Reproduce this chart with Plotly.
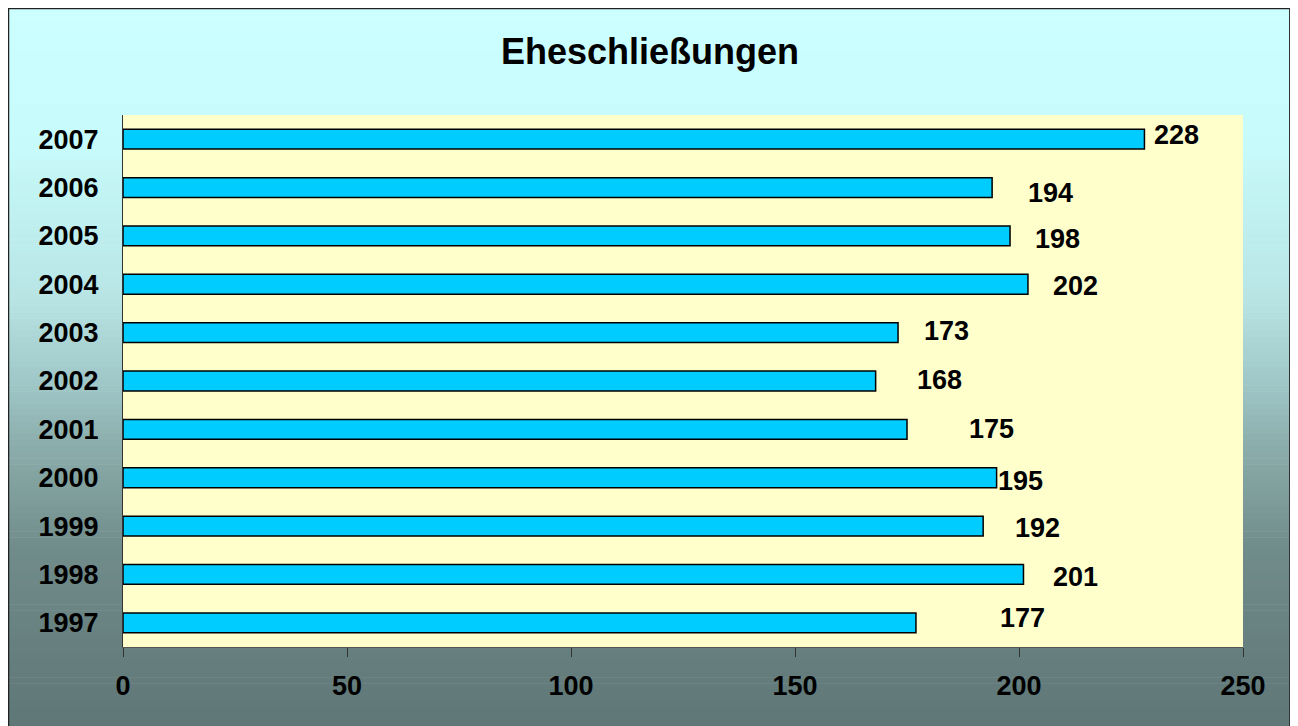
import plotly.graph_objects as go

years = ["1997", "1998", "1999", "2000", "2001", "2002", "2003", "2004", "2005", "2006", "2007"]
values = [177, 201, 192, 195, 175, 168, 173, 202, 198, 194, 228]
x_ticks = [0, 50, 100, 150, 200, 250]
title_text = "Eheschließungen"

# label offsets (px) relative to bar end, as placed in the original
label_dx = [107, 52, 54, 24, 84, 64, 48, 48, 47, 58, 32]
label_dy = [-5, 3, 2, 3, 0, -1, -2, 2, 3, 5, -4]

W, H = 1284, 730
ML, MR, MT, MB = 115, 49, 107, 91
pw, ph = W - ML - MR, H - MT - MB


def px(x):
    return (x - ML) / pw


def py(y):
    return (H - MB - y) / ph


FONT = "Arial, Liberation Sans, sans-serif"

fig = go.Figure()
fig.add_trace(go.Bar(
    x=values, y=years, orientation="h",
    marker=dict(color="#00CCFF", line=dict(color="#000000", width=1.5)),
    width=0.41, hoverinfo="x+y",
))

shapes = []
# gradient background
stops = [(0, (204, 255, 255)), (142, (199, 250, 250)), (292, (184, 228, 228)),
         (372, (160, 200, 200)), (442, (138, 172, 170)), (542, (112, 140, 138)),
         (730, (94, 117, 117))]


def col(y):
    for (y0, c0), (y1, c1) in zip(stops[:-1], stops[1:]):
        if y0 <= y <= y1:
            t = (y - y0) / (y1 - y0)
            return "rgb(%d,%d,%d)" % tuple(round(a + (b - a) * t) for a, b in zip(c0, c1))
    return "rgb(%d,%d,%d)" % stops[-1][1]


N = 120
for i in range(N):
    y0 = H * i / N
    y1 = H * (i + 1) / N + 0.6
    shapes.append(dict(type="rect", xref="paper", yref="paper", layer="below",
                       x0=px(0), x1=px(W), y0=py(y1), y1=py(y0),
                       fillcolor=col((y0 + y1) / 2), line=dict(width=0)))
# plot area
shapes.append(dict(type="rect", xref="paper", yref="paper", layer="below",
                   x0=0, x1=1, y0=0, y1=1, fillcolor="#FFFFCC", line=dict(width=0)))
# frame
shapes.append(dict(type="line", xref="paper", yref="paper", x0=px(0), x1=px(W), y0=py(0.5), y1=py(0.5),
                   line=dict(color="#222222", width=1.5)))
shapes.append(dict(type="line", xref="paper", yref="paper", x0=px(0.5), x1=px(0.5), y0=py(0), y1=py(H),
                   line=dict(color="#222222", width=1.5)))
shapes.append(dict(type="line", xref="paper", yref="paper", x0=px(W - 1.5), x1=px(W - 1.5), y0=py(0), y1=py(H),
                   line=dict(color="#333333", width=3)))

annotations = []
for i, (v, dx, dy) in enumerate(zip(values, label_dx, label_dy)):
    annotations.append(dict(x=v, y=i, xref="x", yref="y", text=str(v), showarrow=False,
                            xanchor="center", yanchor="middle", xshift=dx, yshift=-dy,
                            font=dict(family=FONT, size=27, color="#000000", weight="bold")))
annotations.append(dict(x=px(W / 2), y=py(44), xref="paper", yref="paper", text=title_text, showarrow=False,
                        xanchor="center", yanchor="middle",
                        font=dict(family=FONT, size=36, color="#000000", weight="bold")))

fig.update_layout(
    width=W, height=H,
    margin=dict(l=ML, r=MR, t=MT, b=MB, pad=0),
    paper_bgcolor="#FFFFFF", plot_bgcolor="rgba(0,0,0,0)",
    showlegend=False,
    shapes=shapes, annotations=annotations,
    xaxis=dict(range=[0, 250], tickvals=x_ticks, ticks="outside", ticklen=9, tickcolor="#333333",
               showgrid=False, zeroline=False, showline=True, linecolor="#555555", linewidth=1,
               tickfont=dict(family=FONT, size=27, color="#000000", weight="bold"),
               ticklabelstandoff=6, fixedrange=True),
    yaxis=dict(type="category", categoryorder="array", categoryarray=years, range=[-0.5, 10.5],
               ticks="", showgrid=False, zeroline=False, showline=True, linecolor="#333333", linewidth=1,
               tickfont=dict(family=FONT, size=27, color="#000000", weight="bold"),
               ticklabelstandoff=18, fixedrange=True),
    bargap=0.59,
)

fig.write_html("out.html")
